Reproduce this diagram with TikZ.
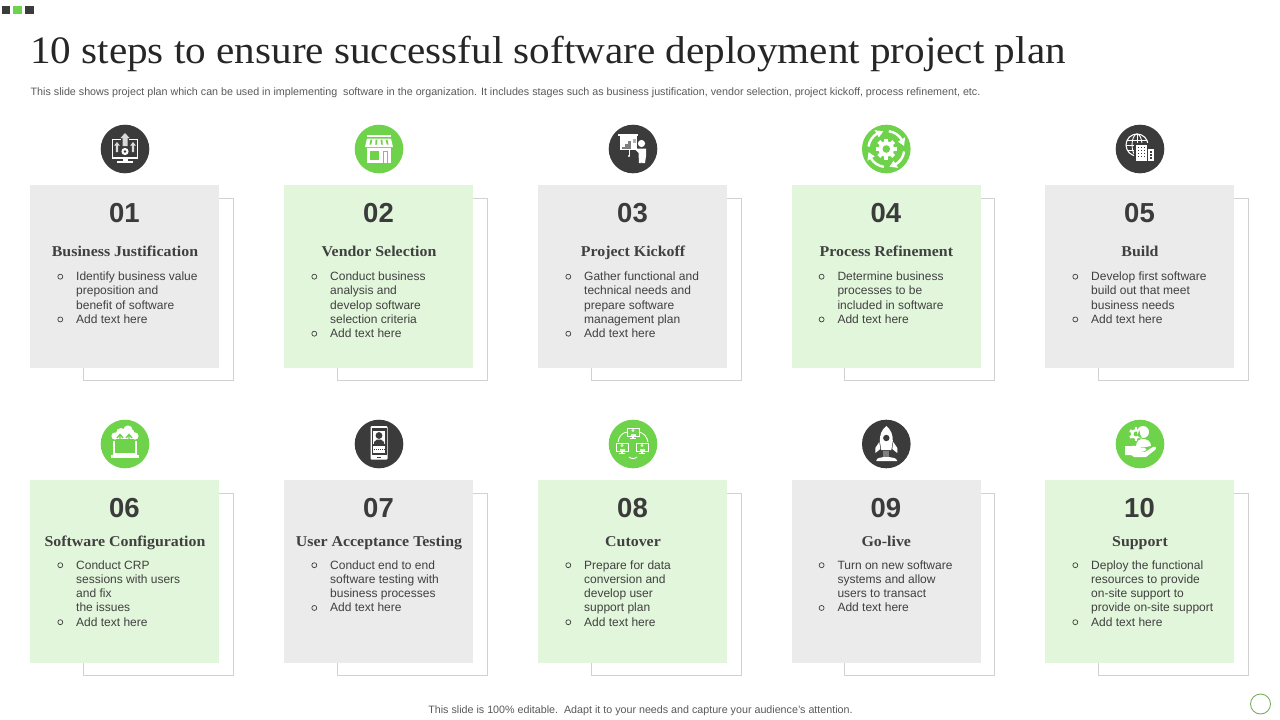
\documentclass[tikz,border=0pt]{standalone}
\usepackage{fontspec}
\setmainfont{Liberation Serif}
\newfontfamily\sansf{Liberation Sans}
\newfontfamily\headf[FakeStretch=1.06]{Liberation Serif}
\definecolor{ink}{HTML}{3B3B3B}
\definecolor{leaf}{HTML}{6FD24B}
\definecolor{palegreen}{HTML}{E2F6DB}
\definecolor{palegray}{HTML}{EBEBEB}
\definecolor{framegray}{HTML}{D2D2D2}
\definecolor{bodygray}{HTML}{404040}
\tikzset{
  cardbox/.style={anchor=north west,inner sep=0pt,minimum width=189pt,minimum height=183pt},
  backframe/.style={draw=framegray,line width=1pt},
  numtext/.style={anchor=base,inner sep=0pt,text=ink,font=\sansf\bfseries\fontsize{27.5}{30}\selectfont},
  cardtitle/.style={anchor=base,inner sep=0pt,text=bodygray,font=\headf\bfseries\fontsize{15}{17}\selectfont},
  bodytext/.style={anchor=north west,inner sep=0pt,align=left,text=bodygray,font=\sansf\fontsize{12}{14.25}\selectfont},
  bulletdot/.style={circle,draw=bodygray,line width=.7pt,inner sep=0pt,minimum size=5pt},
  iconbg/.style={circle,inner sep=0pt,minimum size=48.6pt},
}
% ---------- icons, drawn round the origin of a shifted scope
\newcommand{\iconA}{% monitor with arrows
  \draw[white,line width=1.3pt] (-12.5,-9.5) rectangle (12.5,8.5);
  \fill[white] (-13,7.5) rectangle (13,9.5);
  \fill[white] (-2.5,9) rectangle (2.5,12);
  \fill[white] (-8,12) rectangle (8,14);
  \fill[ink] (-4,-11) rectangle (4,-8);
  \fill[white!85!black] (0,-16) -- (4.5,-11) -- (2.5,-11) -- (2.5,-3) -- (-2.5,-3) -- (-2.5,-11) -- (-4.5,-11) -- cycle;
  \fill[white!85!black] (-8,-7) -- (-5.2,-3.5) -- (-6.8,-3.5) -- (-6.8,3) -- (-9.2,3) -- (-9.2,-3.5) -- (-10.8,-3.5) -- cycle;
  \fill[white!85!black] (8,-7) -- (10.8,-3.5) -- (9.2,-3.5) -- (9.2,3) -- (6.8,3) -- (6.8,-3.5) -- (5.2,-3.5) -- cycle;
  \fill[white] (0,2.5) circle (3.6);
  \fill[ink] (0,2.5) circle (1.3);
}
\newcommand{\iconB}{% shop front
  \fill[white] (-12,-14.5) rectangle (12,-12);
  \fill[white] (-12,-10.5) -- (12,-10.5) -- (14,-2) -- (-14,-2) -- cycle;
  \foreach \s in {-7.5,-2.5,2.5,7.5}{\fill[leaf] (\s-.9,-9.5) -- (\s+.9,-9.5) -- (\s*1.15+.9,-4.5) -- (\s*1.15-.9,-4.5) -- cycle;}
  \fill[white] (-12,-1) rectangle (12,14);
  \fill[leaf] (-9,2) rectangle (0,10.5);
  \fill[leaf] (3.5,2) rectangle (9,14);
  \fill[white] (4.5,3) rectangle (8,14);
}
\newcommand{\iconC}{% presenter at a board
  \fill[white] (-15,-15) rectangle (5,-13);
  \fill[white] (-13.5,-13) rectangle (3.5,1);
  \fill[gray] (-11,-2) rectangle (-8.5,0);
  \fill[gray] (-8,-5) rectangle (-5.5,0);
  \fill[gray] (-5,-8) rectangle (-2.5,0);
  \fill[gray!60] (-.5,-10) rectangle (2.5,-6);
  \draw[white,line width=1pt] (-4,1) -- (-4,7);
  \fill[white] (-4,7) circle (1.2);
  \fill[ink] (3.5,-7) rectangle (6,2);
  \fill[white] (8.5,-5.5) circle (3.6);
  \fill[white] (4,-.5) -- (13,-.5) -- (13,7) -- (12,14) -- (9.2,14) -- (9,7) -- (8.7,14) -- (6,14) -- (5.5,4) -- (-1,-3) -- (0,-4.5) -- cycle;
}
\newcommand{\iconD}{% gear with a ring of arrows
  \foreach \a in {0,45,...,315}{\fill[white,rotate=\a] (-2,-10.5) rectangle (2,-6);}
  \fill[white] (0,0) circle (7.8);
  \fill[leaf] (0,0) circle (3.8);
  \foreach \a in {8,98,188,278}{
    \draw[white,line width=2.4pt] (\a:18) arc (\a:\a+52:18);
    \fill[white] (\a+50:13.8) -- (\a+50:22.2) -- (\a+72:18) -- cycle;
  }
}
\newcommand{\iconE}{% globe and office blocks
  \draw[white,line width=1.1pt] (-3,-4) circle (11);
  \draw[white,line width=.9pt] (-3,-4) ellipse (5 and 11);
  \draw[white,line width=.9pt] (-3,-15) -- (-3,7);
  \draw[white,line width=.9pt] (-14,-4) -- (8,-4);
  \draw[white,line width=.9pt] (-12.6,-9) -- (6.6,-9);
  \draw[white,line width=.9pt] (-12.6,1) -- (6.6,1);
  \fill[ink] (-6,-6) rectangle (15,14);
  \fill[white] (-4,-4) rectangle (6.5,12);
  \fill[white] (7.5,0) rectangle (13.5,12);
  \foreach \i in {-2.5,0.5,3.5}\foreach \j in {-2.5,.5,3.5,6.5}{\fill[ink] (\i,\j) rectangle (\i+1.7,\j+1.7);}
  \foreach \j in {2,5,8}{\fill[ink] (9.5,\j) rectangle (11.5,\j+1.5);}
  \fill[white] (-1,8.5) rectangle (3,12);
}
\newcommand{\iconF}{% cloud above a laptop
  \draw[white,line width=1.1pt] (-11,-3) -- (-11,10) -- (11,10) -- (11,-3);
  \fill[white] (-14,11) rectangle (14,14);
  \fill[white] (-10,-8) circle (3.6) (10,-8) circle (3.6) (-4,-11) circle (5) (3,-14) circle (4.6) (5,-10) circle (5);
  \fill[white] (-11,-9) rectangle (11,-4.6);
  \draw[leaf,line width=1.4pt] (-5,2) -- (-5,-9) (-8,-6) -- (-5,-9.5) -- (-2,-6);
  \draw[leaf,line width=1.4pt] (4,6) -- (4,-9) (1,-6) -- (4,-9.5) -- (7,-6);
}
\newcommand{\iconG}{% phone with a user
  \fill[white,rounded corners=1pt] (-8.5,-18) rectangle (8.5,15.5);
  \fill[ink] (-7.5,-16) rectangle (7.5,11);
  \fill[white] (-6,-13) rectangle (6,0);
  \fill[white] (-6,1.5) rectangle (6,9);
  \fill[ink] (0,-8.5) circle (3.4);
  \fill[ink] (-5,0) -- (-5,-2) -- (-2,-4.5) -- (2,-4.5) -- (5,-2) -- (5,0) -- cycle;
  \foreach \i in {-5,-3,-1,1,3,5}{\fill[ink] (\i-.5,4.5) rectangle (\i+.5,5.5);}
  \fill[ink] (-2,12.7) rectangle (2,13.5);
}
\newcommand{\iconH}{% three linked computers
  \foreach \p/\q in {0/-11,-11/4,9/4}{
    \begin{scope}[shift={(\p,\q)}]
      \draw[white,line width=1pt] (-6,-5) rectangle (6,3.5);
      \fill[white!80!leaf] (0,-2.5) circle (1.6);
      \fill[white!80!leaf] (-2.5,2.8) rectangle (2.5,.6);
      \fill[white] (-3,5) rectangle (3,6);
      \fill[white] (-1,3.5) rectangle (1,5);
    \end{scope}}
  \draw[white,line width=.9pt] (-6,-12) .. controls (-12,-11) and (-14,-7) .. (-15,-2);
  \draw[white,line width=.9pt] (6,-12) .. controls (11,-11) and (14,-7) .. (15,-2);
  \draw[white,line width=.9pt] (-4,13) .. controls (-2,15) and (2,15) .. (4,13);
}
\newcommand{\iconI}{% rocket
  \fill[white] (0,-18) .. controls (5,-14) and (6.5,-9) .. (6.5,-3) -- (5,6) -- (-5,6) -- (-6.5,-3) .. controls (-6.5,-9) and (-5,-14) .. (0,-18) -- cycle;
  \fill[white] (-7,-2) -- (-11,4) -- (-11,9) -- (-6,5) -- cycle;
  \fill[white] (7,-2) -- (11,4) -- (11,9) -- (6,5) -- cycle;
  \fill[ink] (0,-6) circle (3.2);
  \fill[gray] (-3,7) rectangle (3,13);
  \fill[white] (-10,17) .. controls (-10,13) and (-5,14) .. (-3,13) -- (3,13) .. controls (5,14) and (10,13) .. (11,17) -- cycle;
}
\newcommand{\iconJ}{% hand holding a person and a gear
  \fill[white] (-15,2) -- (-8,2) .. controls (-4,1) and (-1,3) .. (2,4) -- (5,4) .. controls (7,4) and (7,7) .. (4,7) -- (-1,7) -- (5,8) -- (13,3) .. controls (16,2) and (17,4) .. (15,6) -- (6,13) -- (-6,13) -- (-9,11) -- (-15,11) -- cycle;
  \foreach \a in {0,60,...,300}{\fill[white,shift={(-4,-10)},rotate=\a] (-1.4,-7) rectangle (1.4,-4);}
  \fill[white] (-4,-10) circle (5.2);
  \fill[leaf] (-4,-10) circle (2.4);
  \fill[white] (3,-12) circle (6);
  \fill[white] (-4,3) .. controls (-4,-3) and (-1,-5) .. (3,-5) .. controls (8,-5) and (11,-2) .. (11,2) -- (3,3.5) -- cycle;
  \fill[leaf] (-.6,-14) .. controls (-.2,-11) and (0,-8) .. (2,-6) .. controls (0,-6) and (-2,-7) .. (-2.5,-9) -- cycle;
}
% ---------- one step card
\newcommand{\stepcard}[9]{%
  % #1 id, #2 x, #3 top, #4 panel colour, #5 disc colour, #6 number, #7 title, #8 first bullet, #9 line count
  \draw[backframe] (#2+53.5,#3+13.5) rectangle (#2+203.5,#3+195.5);
  \node[cardbox,fill=#4] (card#1) at (#2,#3) {};
  \node[iconbg,fill=#5] (icon#1) at (#2+95,#3-36) {};
  \begin{scope}[shift={(#2+95,#3-36)}]\csname iconsel#1\endcsname\end{scope}
  \node[numtext] (num#1) at (#2+94.5,#3+37) {#6};
  \node[cardtitle] (title#1) at (#2+95,#3+\tdy) {#7};
  \node[bulletdot] (dota#1) at (#2+30.3,#3+\bdy-3.8) {};
  \node[bodytext] (texta#1) at (#2+46,#3+\bdy-11) {\rule{0pt}{11pt}#8};
  \node[bulletdot] (dotb#1) at (#2+30.3,#3+\bdy-3.8+#9*14.25) {};
  \node[bodytext] (textb#1) at (#2+46,#3+\bdy-11+#9*14.25) {\rule{0pt}{11pt}Add text here};
}
\expandafter\let\csname iconsel01\endcsname\iconA
\expandafter\let\csname iconsel02\endcsname\iconB
\expandafter\let\csname iconsel03\endcsname\iconC
\expandafter\let\csname iconsel04\endcsname\iconD
\expandafter\let\csname iconsel05\endcsname\iconE
\expandafter\let\csname iconsel06\endcsname\iconF
\expandafter\let\csname iconsel07\endcsname\iconG
\expandafter\let\csname iconsel08\endcsname\iconH
\expandafter\let\csname iconsel09\endcsname\iconI
\expandafter\let\csname iconsel10\endcsname\iconJ
\begin{document}
\begin{tikzpicture}[x=1pt,y=-1pt]
\useasboundingbox (0,0) rectangle (1280,720);
\fill[white] (0,0) rectangle (1280,720);
% slide marker
\fill[ink] (2,6) rectangle (10,14);
\fill[leaf] (13,6) rectangle (22,14);
\fill[ink] (25,6) rectangle (34,14);
\node[anchor=base west,inner sep=0pt,text=black!85,font=\headf\fontsize{38.83}{42}\selectfont] (head) at (30,63.5) {10 steps to ensure successful software deployment project plan};
\node[anchor=base west,inner sep=0pt,text=black!65,font=\sansf\fontsize{10.71}{12}\selectfont] (sub) at (30.5,95) {This slide shows project plan which can be used in implementing\ \ software in the organization. It includes stages such as business justification, vendor selection, project kickoff, process refinement, etc.};
\def\tdy{71.5}\def\bdy{95.5}
\stepcard{01}{30}{185}{palegray}{ink}{01}{Business Justification}{Identify business value\\preposition and\\benefit of software}{3}
\stepcard{02}{284}{185}{palegreen}{leaf}{02}{Vendor Selection}{Conduct business\\analysis and\\develop software\\selection criteria}{4}
\stepcard{03}{538}{185}{palegray}{ink}{03}{Project Kickoff}{Gather functional and\\technical needs and\\prepare software\\management plan}{4}
\stepcard{04}{791.3}{185}{palegreen}{leaf}{04}{Process Refinement}{Determine business\\processes to be\\included in software}{3}
\stepcard{05}{1045}{185}{palegray}{ink}{05}{Build}{Develop first software\\build out that meet\\business needs}{3}
\def\tdy{66}\def\bdy{89}
\stepcard{06}{30}{480}{palegreen}{leaf}{06}{Software Configuration}{Conduct CRP\\sessions with users\\and fix\\the issues}{4}
\stepcard{07}{284}{480}{palegray}{ink}{07}{User Acceptance Testing}{Conduct end to end\\software testing with\\business processes}{3}
\stepcard{08}{538}{480}{palegreen}{leaf}{08}{Cutover}{Prepare for data\\conversion and\\develop user\\support plan}{4}
\stepcard{09}{791.3}{480}{palegray}{ink}{09}{Go-live}{Turn on new software\\systems and allow\\users to transact}{3}
\stepcard{10}{1045}{480}{palegreen}{leaf}{10}{Support}{Deploy the functional\\resources to provide\\on-site support to\\provide on-site support}{4}
\node[anchor=base,inner sep=0pt,text=black!65,font=\sansf\fontsize{10.71}{12}\selectfont] (foot) at (640.5,713) {This slide is 100\% editable.\ \ Adapt it to your needs and capture your audience’s attention.};
\node[circle,draw=leaf!60!gray,line width=.9pt,inner sep=0pt,minimum size=20pt] (corner) at (1260.5,704) {};
\end{tikzpicture}
\end{document}
